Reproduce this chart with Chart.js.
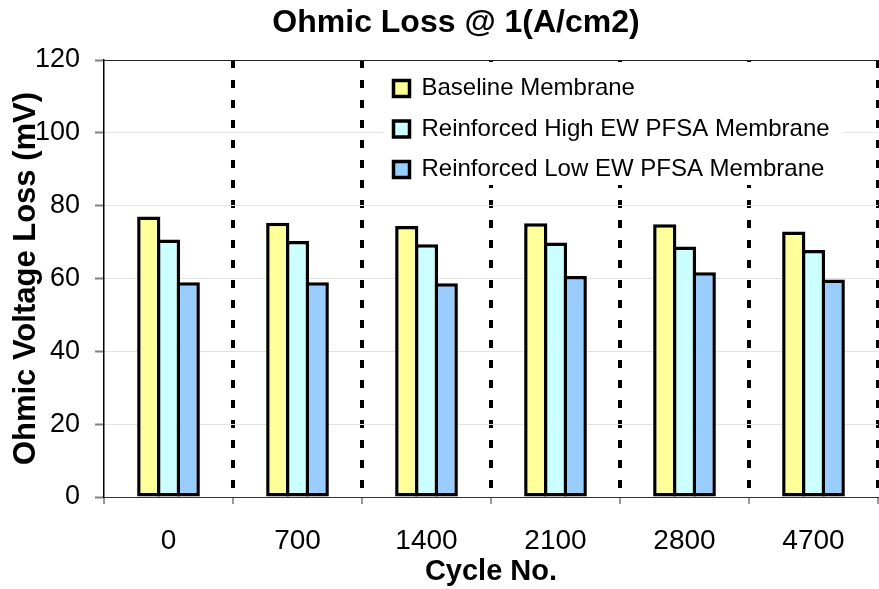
<!DOCTYPE html>
<html>
<head>
<meta charset="utf-8">
<script src="https://cdn.jsdelivr.net/npm/chart.js@4/dist/chart.umd.min.js"></script>
<style>
  html, body { margin: 0; padding: 0; background: #ffffff; }
  #wrap { width: 879px; height: 589px; }
</style>
</head>
<body>
<div id="wrap"><canvas id="c" width="879" height="589"></canvas></div>
<script>
const cycles = ['0', '700', '1400', '2100', '2800', '4700'];
const baselineMembrane = [77.0, 75.3, 74.4, 75.2, 74.9, 72.9];
const highEWMembrane = [70.7, 70.3, 69.4, 69.9, 68.8, 67.8];
const lowEWMembrane = [59.0, 59.0, 58.7, 60.7, 61.7, 59.7];
const seriesLabels = ['Baseline Membrane', 'Reinforced High EW PFSA Membrane', 'Reinforced Low EW PFSA Membrane'];
const yTicks = [0, 20, 40, 60, 80, 100, 120];

const FONT = "'Liberation Sans', Arial, sans-serif";
Chart.defaults.color = '#000';
Chart.defaults.font.family = FONT;

const legendPlacer = {
  id: 'legendPlacer',
  afterLayout(chart) {
    if (chart.legend) {
      chart.legend.left = chart.chartArea.left + 273;
      chart.legend.top = chart.chartArea.top;
    }
    if (chart.titleBlock) {
      chart.titleBlock.left = 34;
    }
  },
  beforeDatasetsDraw(chart) {
    const lg = chart.legend;
    if (!lg) return;
    const ctx = chart.ctx;
    ctx.save();
    ctx.fillStyle = '#ffffff';
    ctx.fillRect(lg.left + 6, lg.top + 2, 460, 123);
    ctx.restore();
    lg.draw(chart.chartArea);
  }
};

const mkSet = (label, data, color) => ({
  label, data,
  backgroundColor: color,
  borderColor: '#000',
  borderWidth: 3.5,
  borderSkipped: false,
  categoryPercentage: 0.459,
  barPercentage: 1.177
});

new Chart(document.getElementById('c'), {
  type: 'bar',
  data: {
    labels: cycles,
    datasets: [
      mkSet(seriesLabels[0], baselineMembrane, '#FFFF99'),
      mkSet(seriesLabels[1], highEWMembrane, '#CCFFFF'),
      mkSet(seriesLabels[2], lowEWMembrane, '#99CCFF')
    ]
  },
  options: {
    responsive: false,
    animation: false,
    layout: { padding: { left: 0, right: 1, top: 0, bottom: 0 } },
    plugins: {
      title: {
        display: true,
        text: 'Ohmic Loss @ 1(A/cm2)',
        font: { size: 32, weight: 'bold', family: FONT },
        color: '#000',
        padding: { top: 4, bottom: 17.6 }
      },
      legend: {
        display: true,
        position: 'chartArea',
        align: 'start',
        labels: {
          boxWidth: 16,
          boxHeight: 16,
          padding: 16.5,
          color: '#000',
          font: { size: 24, family: FONT }
        }
      },
      tooltip: { enabled: false }
    },
    scales: {
      x: {
        offset: true,
        afterFit(scale) { scale.height = 92; },
        grid: {
          offset: true,
          color: (ctx) => ctx.index === 0 ? 'rgba(0,0,0,0)' : '#000',
          lineWidth: 4,
          tickColor: '#333',
          tickWidth: 1,
          tickLength: 7,
          tickBorderDash: []
        },
        border: { display: true, color: '#333', width: 1, dash: [8, 12] },
        ticks: {
          color: '#000',
          font: { size: 28, family: FONT },
          padding: 20,
          maxRotation: 0
        },
        title: {
          display: true,
          text: 'Cycle No.',
          color: '#000',
          font: { size: 29, weight: 'bold', family: FONT },
          padding: { top: 0, bottom: 0 }
        }
      },
      y: {
        min: 0,
        max: 120,
        afterFit(scale) { scale.width = 104; },
        afterBuildTicks(scale) { scale.ticks = yTicks.map(v => ({ value: v })); },
        grid: {
          color: (ctx) => (ctx.tick && ctx.tick.value === 120) ? '#222' : '#e2e2e2',
          lineWidth: 1,
          tickColor: '#808080',
          tickWidth: 2,
          tickLength: 9
        },
        border: { display: true, color: '#000', width: 1.5 },
        ticks: {
          color: '#000',
          font: { size: 27, family: FONT },
          padding: 15
        },
        title: {
          display: true,
          text: 'Ohmic Voltage Loss (mV)',
          color: '#000',
          font: { size: 31, weight: 'bold', family: FONT },
          padding: { top: 7.5, bottom: 0 }
        }
      }
    }
  },
  plugins: [legendPlacer]
});
</script>
</body>
</html>
